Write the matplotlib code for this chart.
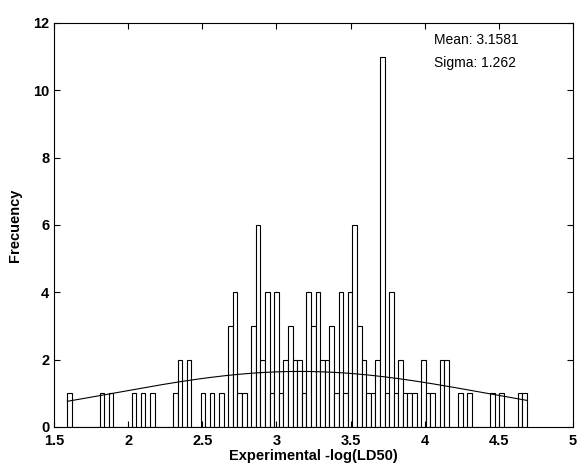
import numpy as np
import matplotlib.pyplot as plt

plt.rcParams['font.family'] = ['Liberation Sans', 'DejaVu Sans']

# histogram: 100 bins from 1.59 to 4.69, counts
bin_start = 1.59
bin_stop = 4.69
n_bins = 100
nonzero_bins = [0, 7, 9, 14, 16, 18, 23, 24, 26, 29, 31, 33, 35, 36, 37, 38,
                40, 41, 42, 43, 44, 45, 46, 47, 48, 49, 50, 51, 52, 53, 54, 55,
                56, 57, 58, 59, 60, 61, 62, 63, 64, 65, 66, 67, 68, 69, 70, 71,
                72, 73, 74, 75, 77, 78, 79, 81, 82, 85, 87, 92, 94, 98, 99]
nonzero_counts = [1, 1, 1, 1, 1, 1, 1, 2, 2, 1, 1, 1, 3, 4, 1, 1,
                  3, 6, 2, 4, 1, 4, 1, 2, 3, 2, 2, 1, 4, 3, 4, 2,
                  2, 3, 1, 4, 1, 4, 6, 3, 2, 1, 1, 2, 11, 1, 4, 1,
                  2, 1, 1, 1, 2, 1, 1, 2, 2, 1, 1, 1, 1, 1, 1]

# fitted normal curve parameters
fit_mean = 3.1581
fit_sigma = 1.262
fit_peak = 1.65

counts = np.zeros(n_bins)
counts[nonzero_bins] = nonzero_counts
edges = np.linspace(bin_start, bin_stop, n_bins + 1)
bw = edges[1] - edges[0]
centers = edges[:-1] + bw / 2

fig = plt.figure(figsize=(5.77, 4.69), dpi=100)
ax = fig.add_axes([0.0936, 0.0896, 0.8994, 0.8614])

ax.bar(centers, counts, width=bw, facecolor='white', edgecolor='black',
       linewidth=0.8)

xs = np.linspace(bin_start, bin_stop, 200)
ax.plot(xs, fit_peak * np.exp(-(xs - fit_mean) ** 2 / (2 * fit_sigma ** 2)),
        color='black', linewidth=0.8)

ax.set_xlim(1.5, 5)
ax.set_ylim(0, 12)
ax.set_xticks(np.arange(1.5, 5.01, 0.5))
ax.set_xticklabels(['1.5', '2', '2.5', '3', '3.5', '4', '4.5', '5'])
ax.set_yticks(np.arange(0, 13, 2))
ax.tick_params(direction='in', top=True, right=True, length=4, width=0.8,
               labelsize=10.5)
ax.tick_params(axis='x', pad=5)
for lab in ax.get_xticklabels() + ax.get_yticklabels():
    lab.set_fontweight('bold')
for s in ax.spines.values():
    s.set_linewidth(0.8)

ax.set_xlabel('Experimental -log(LD50)', fontsize=10.5, fontweight='bold',
              labelpad=1)
ax.set_ylabel('Frecuency', fontsize=10.5, fontweight='bold', labelpad=8)

ax.text(4.06, 11.5, 'Mean: 3.1581', fontsize=10, va='center')
ax.text(4.06, 10.8, 'Sigma: 1.262', fontsize=10, va='center')

fig.savefig('out.png', dpi=100)
